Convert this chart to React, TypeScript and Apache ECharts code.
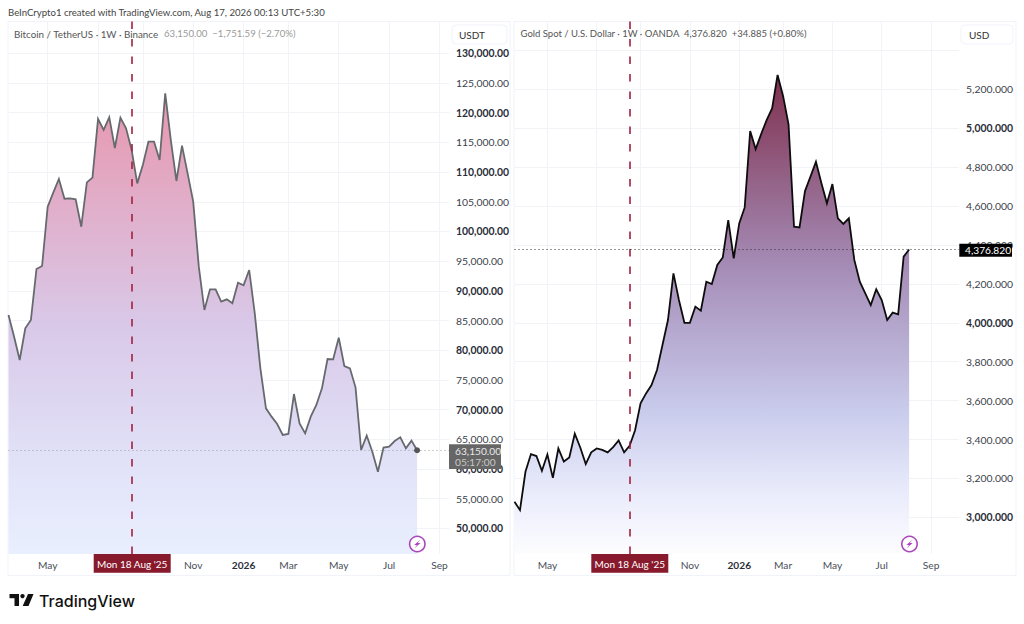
import React, { useEffect, useRef } from "react";
import * as echarts from "echarts";

const btcValues = [85930,82280,78350,83680,85090,93680,94180,104180,106530,108830,105520,105580,105410,100800,108270,109060,118940,117090,119220,114050,119160,117370,113720,108100,111190,115120,115120,112030,123260,115400,108500,114450,109790,105020,94070,86770,90250,90250,88180,88570,87900,91370,90930,93510,86210,76950,70210,68810,67570,65720,65890,72620,67680,66000,68810,70770,73580,78520,78460,82110,77340,76950,73750,63190,65610,62910,59540,63590,63760,64710,65330,63470,64770,63150];
const goldValues = [3080,3037,3234,3325,3315,3239,3323,3203,3354,3287,3308,3430,3359,3274,3334,3354,3347,3334,3361,3395,3334,3368,3448,3586,3637,3680,3757,3886,4014,4254,4117,4000,4000,4083,4062,4211,4199,4297,4336,4528,4331,4511,4593,4986,4893,4970,5042,5102,5274,5166,5020,4494,4490,4677,4751,4828,4717,4614,4713,4537,4508,4537,4323,4211,4151,4091,4172,4117,4014,4052,4043,4340,4376.82];

const btcMonthTicks = [7, 16, 24, 33, 42, 50, 59, 68, 77];
const goldMonthTicks = [6, 15, 23, 32, 41, 49, 58, 67, 76];
const shownMonthLabels = ["May", "", "", "Nov", "2026", "Mar", "May", "Jul", "Sep"];
const btcPriceTicks = [50000,55000,60000,65000,70000,75000,80000,85000,90000,95000,100000,105000,110000,115000,120000,125000,130000];
const goldPriceTicks = [3000,3200,3400,3600,3800,4000,4200,4400,4600,4800,5000,5200];
const goldGridTicks = [...goldPriceTicks, 5400];
const btcEventIndex = 22;
const goldEventIndex = 21;
const btcLast = 63150;
const goldLast = 4376.82;
const eventLabel = "Mon 18 Aug '25";

const FONT = "Lato";
const GRID = "#f2f3f6";

const fmt = (v: number, d: number) =>
  v.toLocaleString("en-US", { minimumFractionDigits: d, maximumFractionDigits: d });

const priceLabel = (boldEvery: number, d: number) => ({
  show: true,
  inside: false,
  margin: 7,
  fontFamily: FONT,
  formatter: (v: number) => {
    const bold = v % boldEvery === 0;
    return `{${bold ? "b" : "r"}|${fmt(v, d)}}`;
  },
  rich: {
    b: { fontFamily: FONT, fontSize: 10.4, fontWeight: 700, color: "#2a2e39" },
    r: { fontFamily: FONT, fontSize: 10.4, fontWeight: 400, color: "#3a3e49" },
  },
});

const monthAxis = (gridIndex: number, max: number, ticks: number[]) => ({
  type: "value" as const,
  gridIndex,
  min: 0,
  max,
  axisLine: { show: false },
  axisTick: { show: false, customValues: ticks },
  splitLine: { show: true, lineStyle: { color: GRID, width: 1 } },
  axisLabel: {
    customValues: ticks,
    showMinLabel: true,
    showMaxLabel: true,
    margin: 6,
    fontFamily: FONT,
    fontSize: 10.2,
    color: "#4a4e59",
    rich: { y: { fontFamily: FONT, fontSize: 10.2, fontWeight: 700, color: "#2a2e39" } },
    formatter: (v: number) => {
      const s = shownMonthLabels[ticks.indexOf(v)] ?? "";
      return s === "2026" ? `{y|${s}}` : s;
    },
  },
});

const areaSeries = (
  name: string,
  gi: number,
  values: number[],
  lineColor: string,
  stops: [number, string][],
  eventIdx: number,
  last: number,
  dotColor: string
) => ({
  type: "line" as const,
  name,
  xAxisIndex: gi,
  yAxisIndex: gi,
  data: values.map((v, i) => [i, v]),
  showSymbol: false,
  symbol: "none",
  smooth: false,
  lineStyle: { color: lineColor, width: 1.8, join: "miter" },
  areaStyle: {
    origin: "start",
    opacity: 1,
    color: new echarts.graphic.LinearGradient(0, 0, 0, 1, stops.map(([offset, color]) => ({ offset, color }))),
  },
  markLine: {
    silent: true,
    symbol: "none",
    animation: false,
    label: { show: false },
    data: [
      { xAxis: eventIdx, lineStyle: { color: "#a3203f", width: 1.6, type: [7.5, 10] } },
      { yAxis: last, lineStyle: { color: dotColor, width: 1, type: [1, 3] } },
    ],
  },
});

const tag = (x: number, y: number, w: number, h: number, fill: string) => ({
  type: "rect",
  z: 20,
  shape: { x, y, width: w, height: h },
  style: { fill },
});
const txt = (x: number, y: number, text: string, fill: string, fontSize = 10, extra: any = {}) => ({
  type: "text",
  z: 21,
  x,
  y,
  style: { text, fill, fontSize, fontFamily: FONT, textVerticalAlign: "middle", ...extra },
});
const frame = (x: number, y: number, w: number, h: number, r = 0) => ({
  type: "rect",
  z: 1,
  shape: { x, y, width: w, height: h, r },
  style: { fill: "none", stroke: "#f0f3fa", lineWidth: 1 },
});
const bolt = (cx: number, cy: number) => [
  { type: "circle", z: 20, shape: { cx, cy, r: 7.7 }, style: { fill: "#fff", stroke: "#ab47bc", lineWidth: 1.6 } },
  {
    type: "polygon",
    z: 21,
    shape: { points: [[cx + 3, cy - 4.2], [cx - 3.2, cy + 0.9], [cx - 0.4, cy + 0.9], [cx - 2.8, cy + 4.2], [cx + 3.2, cy - 0.9], [cx + 0.4, cy - 0.9]] },
    style: { fill: "#ab47bc" },
  },
];

export default function App() {
  const ref = useRef<HTMLDivElement>(null);
  useEffect(() => {
    const chart = echarts.init(ref.current!, undefined, { renderer: "svg" });
    const grids = [
      { left: 8.5, top: 21.5, width: 440.5, height: 532.5 },
      { left: 514.5, top: 21.5, width: 444.5, height: 532.5 },
    ];
    chart.setOption({
      animation: false,
      backgroundColor: "#fff",
      textStyle: { fontFamily: FONT },
      grid: grids,
      xAxis: [monthAxis(0, 78.7, btcMonthTicks), monthAxis(1, 81.1, goldMonthTicks)],
      yAxis: [
        {
          type: "value",
          gridIndex: 0,
          position: "right",
          min: 45677,
          max: 135361,
          axisLine: { show: false },
          axisTick: { show: false, customValues: btcPriceTicks },
          splitLine: { show: true, lineStyle: { color: GRID } },
          axisLabel: { ...priceLabel(10000, 2), customValues: btcPriceTicks },
        },
        {
          type: "value",
          gridIndex: 1,
          position: "right",
          min: 2811.5,
          max: 5548.7,
          axisLine: { show: false },
          axisTick: { show: false, customValues: goldGridTicks },
          splitLine: { show: true, lineStyle: { color: GRID } },
          axisLabel: { ...priceLabel(1000, 3), customValues: goldPriceTicks },
        },
      ],
      series: [
        {
          ...areaSeries("Bitcoin", 0, btcValues, "#666a6e", [[0, "#e896ad"], [0.5, "#d9c8e8"], [0.8, "#e1e2f8"], [1, "#e9effe"]], btcEventIndex, btcLast, "#a0a0a0"),
          markPoint: {
            silent: true,
            symbol: "circle",
            symbolSize: 6,
            label: { show: false },
            itemStyle: { color: "#555" },
            data: [{ coord: [btcValues.length - 1, btcLast] }],
          },
        },
        areaSeries("Gold", 1, goldValues, "#0d0d0d", [[0, "#7f2f4e"], [0.4, "#a58cb6"], [0.7, "#c9cbec"], [0.87, "#e9ebfb"], [1, "#fdfdff"]], goldEventIndex, goldLast, "#333"),
      ],
      graphic: {
        elements: [
          txt(8, 12, "BeInCrypto1 created with TradingView.com, Aug 17, 2026 00:13 UTC+5:30", "#444", 9.6),
          frame(8, 21.5, 502, 554),
          frame(514, 21.5, 502, 554),
          frame(452, 25, 55, 19, 4),
          frame(961, 25, 52, 19, 4),
          txt(459, 35, "USDT", "#333", 10),
          txt(969, 35, "USD", "#333", 10),
          txt(14, 33.5, "Bitcoin / TetherUS · 1W · Binance", "#555", 9.8),
          txt(164, 33.5, "63,150.00  −1,751.59 (−2.70%)", "#9a9a9a", 9.6),
          txt(520.5, 33.5, "Gold Spot / U.S. Dollar · 1W · OANDA  4,376.820  +34.885 (+0.80%)", "#555", 9.5),
          tag(93.7, 554, 77, 18.7, "#871a2c"),
          txt(132.2, 563.5, eventLabel, "#fff", 10, { textAlign: "center" }),
          tag(591.3, 554, 77, 18.7, "#871a2c"),
          txt(629.8, 563.5, eventLabel, "#fff", 10, { textAlign: "center" }),
          tag(449, 444.3, 52, 24.7, "#666666"),
          txt(455, 450.5, "63,150.00", "#e8e8e8", 10.2),
          txt(455, 462, "05:17:00", "#c8c8c8", 10.2),
          tag(959.3, 243.7, 52.7, 13, "#000"),
          txt(965, 250.3, "4,376.820", "#fff", 10.2),
          ...bolt(417.3, 544),
          ...bolt(909.5, 544),
          { type: "rect", z: 21, shape: { x: 9.5, y: 594, width: 9.5, height: 4.2 }, style: { fill: "#111" } },
          { type: "rect", z: 21, shape: { x: 14.5, y: 594, width: 4.5, height: 12 }, style: { fill: "#111" } },
          { type: "circle", z: 21, shape: { cx: 22.5, cy: 596.1, r: 2.2 }, style: { fill: "#111" } },
          { type: "polygon", z: 21, shape: { points: [[28, 594], [33.5, 594], [28.5, 606], [22.7, 606]] }, style: { fill: "#111" } },
          txt(39, 600.5, "TradingView", "#111", 16, { fontWeight: 500, fontFamily: "Inter" }),
        ],
      },
    });
    return () => chart.dispose();
  }, []);
  return <div ref={ref} style={{ position: "fixed", left: 0, top: 0, width: 1024, height: 624 }} />;
}
